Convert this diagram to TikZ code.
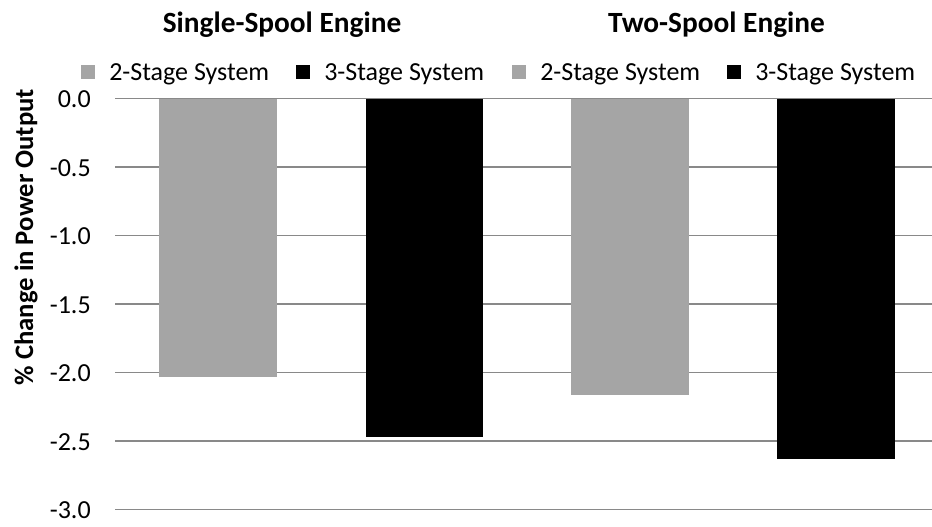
\documentclass[tikz,border=0pt]{standalone}
\usepackage{fontspec}
\setmainfont{Carlito}
\definecolor{barGray}{HTML}{A5A5A5}
\definecolor{gridGray}{HTML}{898989}
\begin{document}
\begin{tikzpicture}[x=0.75pt,y=-0.75pt,
  gridline/.style={draw=gridGray,line width=1.1pt},
  ticklab/.style={anchor=east,font=\fontsize{19.5}{23}\selectfont,inner sep=0pt},
  legtext/.style={anchor=base west,font=\fontsize{19.5}{23}\selectfont,inner sep=0pt},
  charttitle/.style={anchor=base,font=\bfseries\fontsize{22}{26}\selectfont,inner sep=0pt},
  axislab/.style={anchor=base,rotate=90,font=\bfseries\fontsize{20}{24}\selectfont,inner sep=0pt},
  twostage/.style={fill=barGray},
  threestage/.style={fill=black}]
\useasboundingbox (0,0) rectangle (932,526);
% gridlines and tick labels
\foreach \i/\lab in {0/0.0,1/-0.5,2/-1.0,3/-1.5,4/-2.0,5/-2.5,6/-3.0}{
  \draw[gridline] (115,{98.5+68.5*\i}) -- (932,{98.5+68.5*\i});
  \node[ticklab] (t\i) at (91,{99.5+68.5*\i}) {\lab};
}
% bars
\fill[twostage]   (159,98.5) rectangle (277,376.6);
\fill[threestage] (366,98.5) rectangle (483,437.3);
\fill[twostage]   (571,98.5) rectangle (689,394.7);
\fill[threestage] (777,98.5) rectangle (895,458.7);
% titles
\node[charttitle] (title1) at (282,32) {Single-Spool Engine};
\node[charttitle] (title2) at (716.5,32) {Two-Spool Engine};
% legend
\fill[twostage]   (81,65) rectangle (95,79);
\node[legtext] (l1) at (109,80.5) {2-Stage System};
\fill[threestage] (296,65) rectangle (310,79);
\node[legtext] (l2) at (324,80.5) {3-Stage System};
\fill[twostage]   (512,65) rectangle (526,79);
\node[legtext] (l3) at (540,80.5) {2-Stage System};
\fill[threestage] (727,65) rectangle (741,79);
\node[legtext] (l4) at (755,80.5) {3-Stage System};
% axis label
\node[axislab] (ylab) at (33,237) {\% Change in Power Output};
\end{tikzpicture}
\end{document}
